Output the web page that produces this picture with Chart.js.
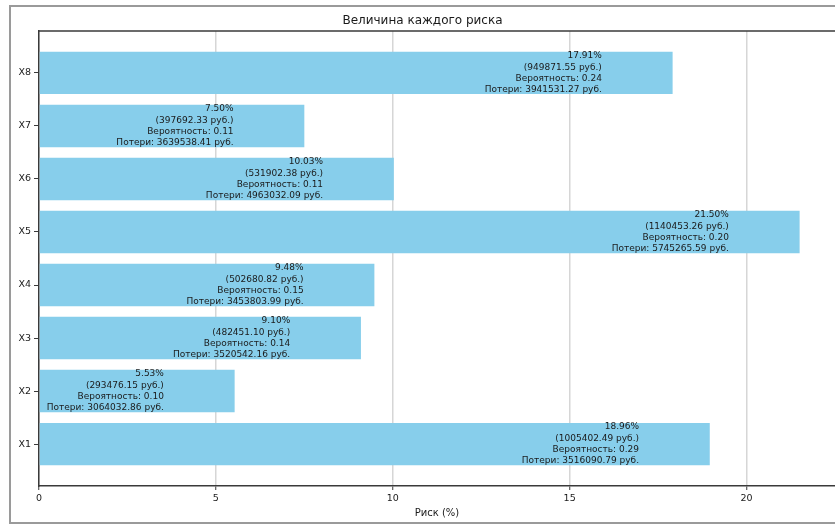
<!DOCTYPE html>
<html>
<head>
<meta charset="utf-8">
<script src="https://cdn.jsdelivr.net/npm/chart.js@4.4.0/dist/chart.umd.min.js"></script>
<style>
  html, body { margin: 0; padding: 0; background: #fff; overflow: hidden; }
  #wrap { position: absolute; left: 0; top: 0; width: 835px; height: 524px; }
</style>
</head>
<body>
<div id="wrap"><canvas id="c" width="835" height="524"></canvas></div>
<script>
// ---- data ----
const categories = ['X1', 'X2', 'X3', 'X4', 'X5', 'X6', 'X7', 'X8'];
const riskPct = [18.96, 5.53, 9.10, 9.48, 21.50, 10.03, 7.50, 17.91];
const riskRub = [1005402.49, 293476.15, 482451.10, 502680.82, 1140453.26, 531902.38, 397692.33, 949871.55];
const probability = [0.29, 0.10, 0.14, 0.15, 0.20, 0.11, 0.11, 0.24];
const losses = [3516090.79, 3064032.86, 3520542.16, 3453803.99, 5745265.59, 4963032.09, 3639538.41, 3941531.27];
const xTicks = [0, 5, 10, 15, 20];

const FONT = "'DejaVu Sans', sans-serif";

const framePlugin = {
  id: 'frame',
  beforeDraw(chart) {
    const ctx = chart.ctx;
    ctx.save();
    ctx.fillStyle = '#fff';
    ctx.fillRect(0, 0, chart.width, chart.height);
    ctx.strokeStyle = '#9a9a9a';
    ctx.lineWidth = 2;
    ctx.strokeRect(10, 6, 900, 517);
    ctx.restore();
  },
  afterDraw(chart) {
    const ctx = chart.ctx, a = chart.chartArea;
    ctx.save();
    ctx.strokeStyle = '#3a3a3a';
    ctx.lineWidth = 1.5;
    ctx.beginPath();
    ctx.moveTo(a.left, a.top);
    ctx.lineTo(a.right + 5, a.top);
    ctx.stroke();
    ctx.restore();
  }
};

const labelPlugin = {
  id: 'barLabels',
  afterDatasetsDraw(chart) {
    const ctx = chart.ctx;
    const xs = chart.scales.x, ys = chart.scales.y;
    ctx.save();
    ctx.font = "9px " + FONT;
    ctx.fillStyle = '#1a1a1a';
    ctx.textAlign = 'right';
    ctx.textBaseline = 'middle';
    const lh = 11.3;
    riskPct.forEach((v, i) => {
      const x = xs.getPixelForValue(v - 2);
      const yc = ys.getPixelForValue(i);
      const lines = [
        v.toFixed(2) + '%',
        '(' + riskRub[i].toFixed(2) + ' руб.)',
        'Вероятность: ' + probability[i].toFixed(2),
        'Потери: ' + losses[i].toFixed(2) + ' руб.'
      ];
      lines.forEach((t, k) => ctx.fillText(t, x, yc + (k - 1.5) * lh));
    });
    ctx.restore();
  }
};

new Chart(document.getElementById('c'), {
  type: 'bar',
  data: {
    datasets: [{
      data: riskPct.map((v, i) => ({ x: v, y: i })),
      backgroundColor: '#87CEEB',
      borderWidth: 0,
      barPercentage: 1,
      categoryPercentage: 0.8
    }]
  },
  options: {
    indexAxis: 'y',
    responsive: false,
    animation: false,
    layout: { padding: { left: 10, top: 0, right: 0, bottom: 0 } },
    plugins: {
      legend: { display: false },
      tooltip: { enabled: false },
      title: {
        display: true,
        text: 'Величина каждого риска',
        color: '#1a1a1a',
        font: { family: FONT, size: 12, weight: 'normal', lineHeight: 1.2 },
        padding: { top: 14, bottom: 2.6 }
      }
    },
    scales: {
      x: {
        type: 'linear',
        min: 0,
        max: 22.5,
        afterBuildTicks: (s) => { s.ticks = xTicks.map(v => ({ value: v })); },
        afterFit: (s) => { s.height = 38; },
        ticks: { color: '#1a1a1a', font: { family: FONT, size: 9.5 }, padding: 3, maxRotation: 0 },
        grid: { color: '#d6d6d6', lineWidth: 1.5, tickLength: 4, tickColor: '#3a3a3a', tickWidth: 1 },
        border: { display: true, color: '#3a3a3a', width: 1.5 },
        title: {
          display: true,
          text: 'Риск (%)',
          color: '#1a1a1a',
          font: { family: FONT, size: 10 },
          padding: { top: 0, bottom: 5 }
        }
      },
      y: {
        type: 'linear',
        min: -0.79,
        max: 7.79,
        offset: false,
        afterBuildTicks: (s) => { s.ticks = categories.map((_, i) => ({ value: i })); },
        afterFit: (s) => { s.width = 29; },
        ticks: {
          color: '#1a1a1a',
          font: { family: FONT, size: 9.5 },
          padding: 3,
          callback: (v) => categories[v]
        },
        grid: { offset: false, drawOnChartArea: false, drawTicks: true, tickLength: 5, color: '#3a3a3a', tickWidth: 1 },
        border: { display: true, color: '#3a3a3a', width: 1.5 }
      }
    }
  },
  plugins: [framePlugin, labelPlugin]
});
</script>
</body>
</html>
